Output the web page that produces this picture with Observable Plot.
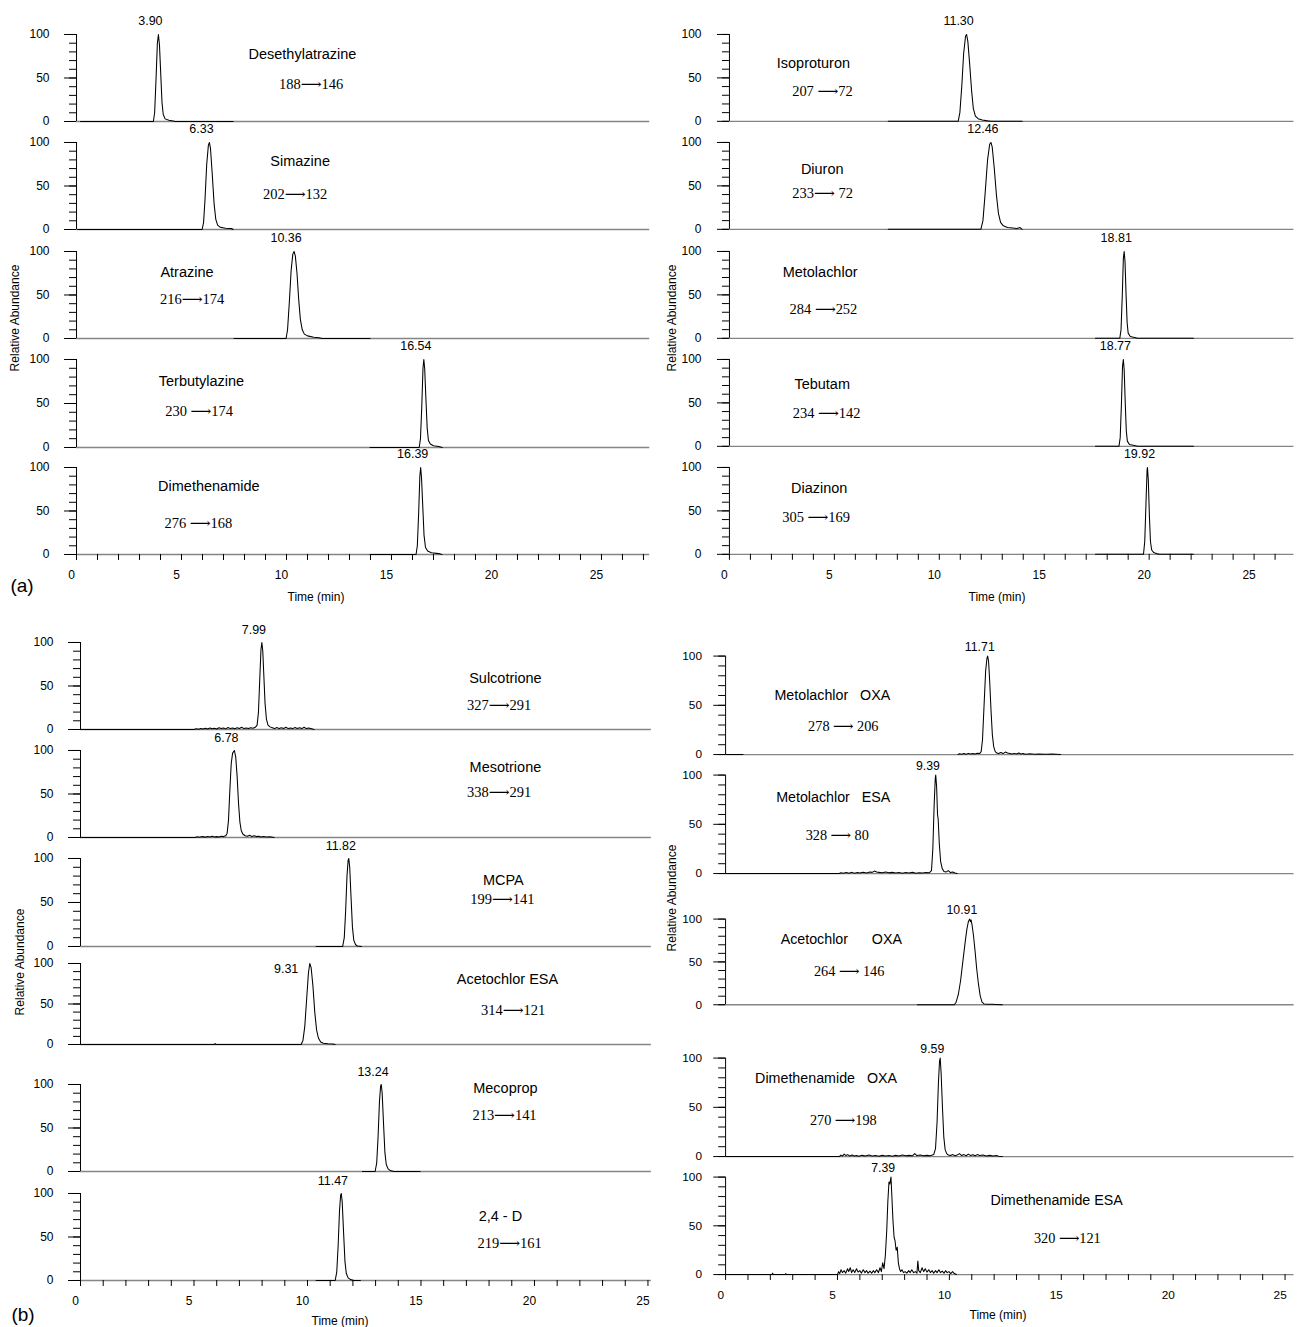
<!DOCTYPE html>
<html><head><meta charset="utf-8">
<script src="https://cdn.jsdelivr.net/npm/d3@7"></script>
<script src="https://cdn.jsdelivr.net/npm/@observablehq/plot@0.6"></script>
<style>
body{margin:0;background:#fff;}
#root{position:relative;width:1297px;height:1327px;overflow:hidden;background:#fff;font-family:"Liberation Sans",Arial,sans-serif;color:#000;}
.lbl{position:absolute;transform:translate(-50%,-50%);white-space:nowrap;}
.rot{position:absolute;transform:translate(-50%,-50%) rotate(-90deg);white-space:nowrap;}
.pnl{position:absolute;}
</style></head><body><div id="root"></div>
<script>
// ---------------- DATA ----------------
// (a) left column
const namesA1 = ["Desethylatrazine", "Simazine", "Atrazine", "Terbutylazine", "Dimethenamide"];
const transA1 = ["188\u27f6146", "202\u27f6132", "216\u27f6174", "230 \u27f6174", "276 \u27f6168"];
const rtA1 = ["3.90", "6.33", "10.36", "16.54", "16.39"];
const rtValA1 = [3.90, 6.33, 10.36, 16.54, 16.39];
// (a) right column
const namesA2 = ["Isoproturon", "Diuron", "Metolachlor", "Tebutam", "Diazinon"];
const transA2 = ["207 \u27f672", "233\u27f6 72", "284 \u27f6252", "234 \u27f6142", "305 \u27f6169"];
const rtA2 = ["11.30", "12.46", "18.81", "18.77", "19.92"];
const rtValA2 = [11.30, 12.46, 18.81, 18.77, 19.92];
// (b) left column
const namesB1 = ["Sulcotrione", "Mesotrione", "MCPA", "Acetochlor ESA", "Mecoprop", "2,4 - D"];
const transB1 = ["327\u27f6291", "338\u27f6291", "199\u27f6141", "314\u27f6121", "213\u27f6141", "219\u27f6161"];
const rtB1 = ["7.99", "6.78", "11.82", "9.31", "13.24", "11.47"];
const rtValB1 = [7.99, 6.78, 11.82, 9.31, 13.24, 11.47];
// (b) right column
const namesB2 = ["Metolachlor\u00a0\u00a0\u00a0OXA", "Metolachlor\u00a0\u00a0\u00a0ESA", "Acetochlor\u00a0\u00a0\u00a0\u00a0\u00a0\u00a0OXA", "Dimethenamide\u00a0\u00a0\u00a0OXA", "Dimethenamide\u00a0ESA"];
const transB2 = ["278 \u27f6 206", "328 \u27f6 80", "264 \u27f6 146", "270 \u27f6198", "320 \u27f6121"];
const rtB2 = ["11.71", "9.39", "10.91", "9.59", "7.39"];
const rtValB2 = [11.71, 9.39, 10.91, 9.59, 7.39];

const xTickLabels = [0, 5, 10, 15, 20, 25];
const yTickLabels = [0, 50, 100];

// chromatogram traces: [time (min), relative abundance (%)]
const traceDesethylatrazine = [[0.19,0],[3.66,0],[3.72,10],[3.78,45],[3.85,90],[3.9,100],[3.95,88],[4.01,55],[4.07,22],[4.13,8],[4.22,3],[4.4,1.5],[4.6,0.5],[4.7,0],[7.46,0]];
const traceSimazine = [[0.05,0],[5.98,0],[6.05,8],[6.12,35],[6.2,75],[6.28,97],[6.33,100],[6.38,93],[6.46,65],[6.55,30],[6.63,12],[6.72,5],[6.85,2.5],[7.1,1.5],[7.4,1],[7.46,0]];
const traceAtrazine = [[7.5,0],[9.98,0],[10.05,10],[10.13,40],[10.22,78],[10.3,97],[10.36,100],[10.42,95],[10.5,75],[10.58,45],[10.66,22],[10.75,10],[10.85,5],[11.0,3],[11.3,1.5],[11.55,0.8],[11.7,0],[13.98,0]];
const traceTerbutylazine = [[13.98,0],[16.32,0],[16.38,10],[16.44,45],[16.5,90],[16.54,100],[16.58,90],[16.64,55],[16.7,22],[16.76,8],[16.85,4],[17.0,2],[17.25,1],[17.42,0]];
const traceDimethenamide = [[13.98,0],[16.17,0],[16.23,10],[16.29,45],[16.35,90],[16.39,100],[16.43,88],[16.49,55],[16.55,22],[16.62,8],[16.72,4],[16.9,2],[17.25,1],[17.4,0]];

const traceIsoproturon = [[7.57,0],[10.9,0],[10.98,10],[11.07,40],[11.16,78],[11.25,98],[11.3,100],[11.36,92],[11.45,65],[11.54,35],[11.62,15],[11.72,6],[11.85,3],[12.05,1.5],[12.3,0.5],[12.45,0],[13.95,0]];
const traceDiuron = [[7.57,0],[11.98,0],[12.08,10],[12.18,40],[12.3,80],[12.4,98],[12.46,100],[12.52,95],[12.62,70],[12.72,40],[12.82,18],[12.92,8],[13.05,4],[13.25,2],[13.5,1.5],[13.7,1],[13.85,2],[13.95,0]];
const traceMetolachlor = [[17.44,0],[18.6,0],[18.66,10],[18.72,50],[18.77,92],[18.81,100],[18.85,88],[18.9,50],[18.95,18],[19.0,6],[19.1,2],[19.3,1],[19.45,0],[22.11,0]];
const traceTebutam = [[17.44,0],[18.56,0],[18.62,10],[18.68,50],[18.73,92],[18.77,100],[18.81,88],[18.86,50],[18.91,18],[18.96,6],[19.06,2],[19.3,1],[19.45,0],[22.11,0]];
const traceDiazinon = [[17.44,0],[19.73,0],[19.79,15],[19.85,60],[19.9,97],[19.92,100],[19.96,85],[20.01,45],[20.06,15],[20.12,5],[20.22,2],[20.4,0.5],[20.5,0],[22.11,0]];

const traceSulcotrione = [[0,0],[5.0,0],[5.1,0.8],[5.2,0.3],[5.3,1.2],[5.4,0.5],[5.5,1.5],[5.6,0.6],[5.7,1.8],[5.8,0.8],[5.9,1.5],[6.0,0.5],[6.1,2],[6.2,1],[6.3,1.8],[6.4,0.7],[6.5,2.2],[6.6,1],[6.7,1.8],[6.8,0.8],[6.9,2],[7.0,1.2],[7.1,2.5],[7.2,1],[7.3,1.8],[7.4,1],[7.5,2],[7.6,1.5],[7.7,2.5],[7.78,5],[7.84,20],[7.9,60],[7.95,92],[7.99,100],[8.03,90],[8.08,60],[8.13,30],[8.19,12],[8.26,5],[8.35,3],[8.45,2],[8.55,1],[8.65,2.2],[8.75,1],[8.85,2],[8.95,1.2],[9.05,2.5],[9.15,1],[9.25,1.8],[9.35,1],[9.45,2.2],[9.55,1.2],[9.65,2],[9.75,1],[9.85,2.5],[9.95,1],[10.05,1.8],[10.18,0.8],[10.29,0]];
const traceMesotrione = [[0,0],[5.05,0],[5.15,0.8],[5.25,0.3],[5.35,1],[5.5,0.4],[5.6,1.2],[5.7,0.5],[5.8,1.5],[5.9,0.6],[6.0,1],[6.1,0.5],[6.2,1.5],[6.3,1],[6.4,2],[6.46,5],[6.52,20],[6.58,55],[6.64,85],[6.7,97],[6.78,100],[6.84,92],[6.9,70],[6.96,40],[7.02,18],[7.08,8],[7.15,4],[7.25,2],[7.35,1.5],[7.45,2.5],[7.55,1],[7.65,2],[7.75,1],[7.85,1.5],[7.95,0.5],[8.05,1.2],[8.2,0.5],[8.35,0.8],[8.53,0]];
const traceMCPA = [[10.38,0],[11.55,0],[11.62,10],[11.68,40],[11.74,80],[11.79,98],[11.82,100],[11.86,90],[11.92,55],[11.98,22],[12.04,7],[12.12,2],[12.2,0.5],[12.38,0]];
const traceAcetochlorESA = [[0,0],[5.9,0],[5.93,1.2],[5.96,0],[9.72,0],[9.8,5],[9.88,22],[9.96,55],[10.04,88],[10.1,100],[10.16,95],[10.24,72],[10.32,40],[10.4,18],[10.48,8],[10.58,3],[10.7,1.5],[10.9,0.8],[11.1,0.5],[11.22,0]];
const traceMecoprop = [[12.42,0],[12.98,0],[13.05,10],[13.11,40],[13.17,80],[13.22,98],[13.25,100],[13.29,90],[13.35,55],[13.41,22],[13.47,8],[13.55,3],[13.65,1],[13.8,0],[14.96,0]];
const trace24D = [[10.38,0],[11.22,0],[11.29,10],[11.35,40],[11.41,80],[11.46,98],[11.49,100],[11.53,90],[11.59,55],[11.65,22],[11.71,8],[11.79,3],[11.9,1],[12.05,0],[12.33,0]];

const traceMetolachlorOXA = [[0,0],[0.78,0],[0.78,NaN],[10.39,0],[10.45,0.8],[10.55,0.3],[10.65,1],[10.75,0.4],[10.85,1.2],[10.95,0.5],[11.05,1],[11.15,0.6],[11.25,1.2],[11.35,1],[11.42,3],[11.48,15],[11.55,50],[11.62,85],[11.68,98],[11.71,100],[11.75,95],[11.8,75],[11.86,45],[11.92,20],[11.98,8],[12.05,3],[12.12,1.5],[12.2,1],[12.3,2],[12.4,1],[12.5,2.5],[12.6,1.5],[12.7,1],[12.8,0.5],[12.9,1.2],[13.0,0.5],[13.1,1.5],[13.2,0.5],[13.3,1],[13.4,0.3],[13.6,0.8],[13.8,0.3],[14.0,0.6],[14.3,0.3],[14.6,0.5],[14.97,0]];
const traceMetolachlorESA = [[0,0],[5.08,0],[5.15,0.8],[5.25,0.2],[5.4,1],[5.5,0.3],[5.65,1.2],[5.75,0.4],[5.9,1],[6.0,0.5],[6.15,1.3],[6.3,0.6],[6.45,1.5],[6.55,1.2],[6.65,2.5],[6.75,1.5],[6.85,1.2],[7.0,0.8],[7.15,1.5],[7.3,0.7],[7.45,1.2],[7.6,0.5],[7.75,1],[7.9,0.4],[8.05,1],[8.2,0.5],[8.35,1.2],[8.5,0.4],[8.65,0.8],[8.8,0.5],[8.95,1],[9.1,0.8],[9.2,3],[9.26,25],[9.32,70],[9.37,97],[9.39,100],[9.43,88],[9.47,60],[9.5,55],[9.55,30],[9.61,12],[9.68,5],[9.76,2],[9.85,1.5],[9.95,3],[10.05,1],[10.15,1.5],[10.25,0.5],[10.35,0]];
const traceAcetochlorOXA = [[8.57,0],[10.22,0],[10.3,3],[10.4,12],[10.5,28],[10.6,50],[10.7,72],[10.78,88],[10.84,96],[10.88,99],[10.91,100],[10.94,97],[10.97,99],[11.02,92],[11.08,80],[11.15,62],[11.22,42],[11.3,24],[11.38,10],[11.46,3],[11.55,1],[11.7,0.5],[11.9,0.5],[12.1,0.3],[12.37,0]];
const traceDimethenamideOXA = [[0,0],[5.08,0],[5.15,1.5],[5.22,0.5],[5.3,2.5],[5.38,1],[5.46,2],[5.55,0.5],[5.65,1.5],[5.75,0.5],[5.85,1],[5.95,0.3],[6.1,1.2],[6.25,0.5],[6.4,1.5],[6.55,0.5],[6.7,1],[6.85,0.4],[7.0,1.2],[7.15,0.5],[7.3,1],[7.45,0.4],[7.6,1.2],[7.75,0.5],[7.9,1.5],[8.05,0.8],[8.2,1.2],[8.35,0.8],[8.45,3],[8.55,1],[8.7,1.5],[8.85,0.8],[9.0,1.2],[9.15,0.8],[9.3,2],[9.38,8],[9.45,35],[9.51,75],[9.56,97],[9.59,100],[9.63,85],[9.69,50],[9.75,20],[9.81,7],[9.88,3],[9.95,1.5],[10.05,1],[10.15,2],[10.25,0.8],[10.35,1.5],[10.45,3],[10.55,1],[10.65,2],[10.75,0.8],[10.85,2.5],[10.95,1],[11.05,1.8],[11.15,0.8],[11.25,2],[11.35,1],[11.5,1.5],[11.65,0.6],[11.8,1.2],[11.95,0.5],[12.1,1],[12.2,0.4],[12.37,0]];
const traceDimethenamideESA = [[0,0],[2.07,0],[2.1,1.5],[2.13,0],[2.66,0],[2.69,1],[2.72,0],[5.0,0],[5.05,3],[5.1,1],[5.16,5],[5.22,2],[5.3,4],[5.37,1.5],[5.45,6],[5.5,3],[5.57,7],[5.63,2],[5.7,5],[5.77,2],[5.85,6],[5.92,2.5],[6.0,4],[6.07,1.5],[6.15,5],[6.23,2],[6.3,4],[6.37,1.5],[6.45,3.5],[6.53,1.5],[6.6,4],[6.67,2],[6.75,5],[6.83,2],[6.9,7],[6.96,3],[7.02,12],[7.08,6],[7.14,20],[7.2,45],[7.25,75],[7.3,95],[7.34,93],[7.39,100],[7.43,80],[7.48,55],[7.53,38],[7.57,35],[7.62,25],[7.67,28],[7.72,12],[7.77,6],[7.82,3],[7.88,5],[7.95,2],[8.02,3],[8.1,1.5],[8.18,4],[8.25,2],[8.32,5],[8.4,2],[8.48,3],[8.55,1.5],[8.59,14],[8.63,4],[8.7,2],[8.78,7],[8.85,3],[8.92,6],[9.0,2.5],[9.08,5],[9.15,2],[9.23,4],[9.3,1.5],[9.38,4],[9.45,2],[9.53,5],[9.6,2],[9.68,3.5],[9.76,1.5],[9.83,4],[9.9,2],[9.98,3],[10.06,1],[10.14,3],[10.22,1],[10.32,0]];

// annotation anchors in data units [time (min), abundance (%)]
const nameAtA1 = [[10.76,77],[10.65,78],[5.26,76],[5.95,75],[6.3,78.5]];
const transAtA1 = [[11.17,42.5],[10.41,40],[5.5,45],[5.84,41],[5.8,36]];
const nameAtA2 = [[4.0,67],[4.42,68.6],[4.32,76],[4.42,71],[4.28,75.5]];
const transAtA2 = [[4.43,34],[4.44,41.7],[4.48,33],[4.63,38],[4.13,43]];
const nameAtB1 = [[18.72,59],[18.72,80.8],[18.63,75],[18.81,80],[18.72,95.7],[18.5,74]];
const transAtB1 = [[18.44,27.6],[18.44,52],[18.59,53],[19.06,42],[18.68,64],[18.91,43]];
const nameAtB2 = [[4.77,60],[4.81,77.3],[5.17,76.7],[4.49,79],[14.79,76]];
const transAtB2 = [[5.26,28.7],[4.99,38.3],[5.52,39.4],[5.26,36.3],[15.27,36.7]];
// retention-time labels placed beside the peak instead of above it
const rtSideAtB1 = [null, null, null, [9.06, 93], null, null];

// ---------------- LAYOUT (pixels) ----------------
const groups = [
  {names: namesA1, trans: transA1, rt: rtA1, rtVal: rtValA1, nameAt: nameAtA1, transAt: transAtA1, side: [],
   traces: [traceDesethylatrazine, traceSimazine, traceAtrazine, traceTerbutylazine, traceDimethenamide],
   x0: 76, k: 21.0, xmax: 27.3, pad: 15, rtDy: -13,
   rows: [[34,121],[142,229],[251,338],[359,447],[467,554]]},
  {names: namesA2, trans: transA2, rt: rtA2, rtVal: rtValA2, nameAt: nameAtA2, transAt: transAtA2, side: [],
   traces: [traceIsoproturon, traceDiuron, traceMetolachlor, traceTebutam, traceDiazinon],
   x0: 728.5, k: 21.02, xmax: 26.9, pad: 16, rtDy: -13,
   rows: [[34,121],[142,229],[251,338],[359,446],[467,554]]},
  {names: namesB1, trans: transB1, rt: rtB1, rtVal: rtValB1, nameAt: nameAtB1, transAt: transAtB1, side: rtSideAtB1,
   traces: [traceSulcotrione, traceMesotrione, traceMCPA, traceAcetochlorESA, traceMecoprop, trace24D],
   x0: 80, k: 22.7, xmax: 25.15, pad: 15, rtDy: -12,
   rows: [[642,729],[750,837],[858,946],[963,1044],[1084,1171],[1193,1280]]},
  {names: namesB2, trans: transB2, rt: rtB2, rtVal: rtValB2, nameAt: nameAtB2, transAt: transAtB2, side: [],
   traces: [traceMetolachlorOXA, traceMetolachlorESA, traceAcetochlorOXA, traceDimethenamideOXA, traceDimethenamideESA],
   x0: 725.5, k: 22.73, xmax: 25.4, pad: 12, rtDy: -9,
   rows: [[656,756],[775,875],[919,1006],[1058,1158],[1177,1276]]}
];

const SANS = "Liberation Sans, Arial, sans-serif";
const SERIF = "Liberation Serif, DejaVu Serif, serif";
const root = document.getElementById("root");

function panel(g, i) {
  const [top, bottom] = g.rows[i];
  const h = bottom - top;
  const last = i === g.rows.length - 1;
  const ML = 60, MR = 4, MT = 26, MB = last ? 34 : 4;
  const W = ML + g.k * g.xmax + MR;
  const side = g.side[i];
  const rtDatum = side ? [{x: side[0], y: side[1], t: g.rt[i]}] : [{x: g.rtVal[i], y: 100, t: g.rt[i]}];
  const marks = [
    Plot.ruleY([0], {x1: 0, x2: g.xmax, stroke: "#858585", strokeWidth: 1.3}),
    Plot.ruleX([0], {y1: 0, y2: 100, stroke: "#000", strokeWidth: 1}),
    Plot.axisY({ticks: d3.range(0, 101, 10), tickSize: 7, tickFormat: () => "", label: null}),
    Plot.axisY({ticks: yTickLabels, tickSize: 12, tickPadding: g.pad, label: null, fontSize: 12}),
    Plot.line(g.traces[i], {x: d => d[0], y: d => d[1], stroke: "#000", strokeWidth: 1.05}),
    Plot.text([{x: g.nameAt[i][0], y: g.nameAt[i][1], t: g.names[i]}], {x: "x", y: "y", text: "t", fontSize: 14.5, fontFamily: SANS}),
    Plot.text([{x: g.transAt[i][0], y: g.transAt[i][1], t: g.trans[i]}], {x: "x", y: "y", text: "t", fontSize: 14.5, fontFamily: SERIF}),
    Plot.text(rtDatum, {x: "x", y: "y", text: "t", fontSize: 12.5, fontFamily: SANS, dx: side ? 0 : -8, dy: side ? 0 : g.rtDy})
  ];
  if (last) {
    marks.push(Plot.axisX({ticks: d3.range(0, Math.floor(g.xmax) + 1), tickSize: 6, tickFormat: () => "", label: null}));
    marks.push(Plot.text(xTickLabels, {x: d => d, y: 0, text: d => String(d), dy: 21, dx: -5, fontSize: 12, fontFamily: SANS}));
  }
  const svg = Plot.plot({
    width: W, height: MT + h + MB,
    marginLeft: ML, marginRight: MR, marginTop: MT, marginBottom: MB,
    x: {domain: [0, g.xmax], axis: null},
    y: {domain: [0, 100]},
    style: {background: "transparent", overflow: "visible", fontFamily: SANS, fontSize: "12px", color: "#000"},
    marks
  });
  const wrap = document.createElement("div");
  wrap.className = "pnl";
  wrap.style.left = (g.x0 - ML) + "px";
  wrap.style.top = (top - MT) + "px";
  wrap.appendChild(svg);
  root.appendChild(wrap);
}

groups.forEach(g => g.rows.forEach((_, i) => panel(g, i)));

function addText(text, x, y, size, cls) {
  const d = document.createElement("div");
  d.className = cls || "lbl";
  d.textContent = text;
  d.style.left = x + "px";
  d.style.top = y + "px";
  d.style.fontSize = size + "px";
  root.appendChild(d);
}
addText("Relative Abundance", 15, 318, 12, "rot");
addText("Relative Abundance", 672, 318, 12, "rot");
addText("Relative Abundance", 20, 962, 12, "rot");
addText("Relative Abundance", 672, 898, 12, "rot");
addText("Time (min)", 316, 597, 12);
addText("Time (min)", 997, 597, 12);
addText("Time (min)", 340, 1321, 12);
addText("Time (min)", 998, 1315, 12);
addText("(a)", 22, 586, 19);
addText("(b)", 23, 1315, 19);
</script></body></html>
